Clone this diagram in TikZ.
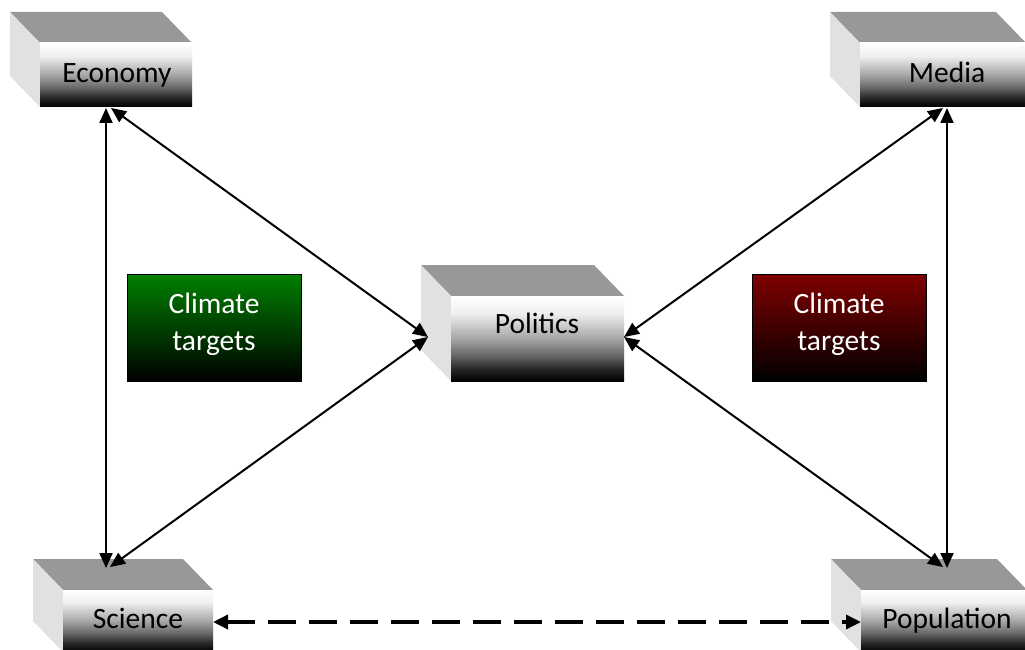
\documentclass[tikz,border=0pt]{standalone}
\usepackage{fontspec}
\setmainfont{Carlito}
\usetikzlibrary{arrows.meta}
\definecolor{grn}{RGB}{0,128,0}
\definecolor{drd}{RGB}{128,0,0}
\definecolor{topgray}{RGB}{152,152,152}
\definecolor{sidegray}{RGB}{225,225,225}
\pgfdeclareverticalshading{boxfront}{100bp}{color(0bp)=(black); color(25bp)=(black); color(32bp)=(black!85); color(40bp)=(black!60); color(50bp)=(black!35); color(65bp)=(black!6); color(75bp)=(white); color(100bp)=(white)}
\pgfdeclareverticalshading{greenfront}{100bp}{color(0bp)=(black); color(25bp)=(black); color(75bp)=(grn); color(100bp)=(grn)}
\pgfdeclareverticalshading{redfront}{100bp}{color(0bp)=(black); color(25bp)=(black); color(75bp)=(drd); color(100bp)=(drd)}
\tikzset{
  topface/.style={fill=topgray},
  sideface/.style={fill=sidegray},
  frontface/.style={shading=boxfront, inner sep=0pt, outer sep=0pt, draw=none},
  boxlabel/.style={anchor=base, font=\fontsize{29.5}{36}\selectfont, inner sep=0pt},
  target/.style={draw=black, line width=1pt, minimum width=174pt, minimum height=107pt, inner sep=0pt, text=white, align=center, font=\fontsize{29.5}{37}\selectfont},
  conn/.style={{Triangle[length=15pt,width=13pt]}-{Triangle[length=15pt,width=13pt]}, line width=2pt},
  dashconn/.style={{Triangle[length=15pt,width=14pt]}-{Triangle[length=15pt,width=14pt]}, line width=3.5pt, dash pattern=on 28pt off 13pt}
}
\newcommand\boxthree[5]{%
  \fill[topface] (#2,#3) -- (#2-30,#3-31) -- (#4-30,#3-31) -- (#4,#3) -- cycle;
  \fill[sideface] (#2,#3) -- (#2-30,#3-31) -- (#2-30,#5-31) -- (#2,#5) -- cycle;
  \node[frontface, minimum width={#4-#2}, minimum height={#5-#3}] (#1) at ({(#2+#4)/2},{(#3+#5)/2}) {};
}
\begin{document}
\begin{tikzpicture}[x=1pt,y=-1pt]
\useasboundingbox (0,0) rectangle (1025,650);
\clip (0,0) rectangle (1025,650);
\fill[white] (0,0) rectangle (1025,650);

\boxthree{econ}{40}{43}{192}{107}
\boxthree{media}{860}{43}{1026}{107}
\boxthree{pol}{451}{296}{624}{381}
\boxthree{sci}{63}{590}{213}{652}
\boxthree{pop}{861}{590}{1027}{652}

\node[boxlabel] (econT) at (117,83) {Economy};
\node[boxlabel] (mediaT) at (947,83) {Media};
\node[boxlabel] (polT) at (537,333) {Politics};
\node[boxlabel] (sciT) at (138,628) {Science};
\node[boxlabel] (popT) at (947,628) {Population};

\node[target, shading=greenfront, text depth=11pt] (gt) at (214,327.5) {Climate\\targets};
\node[target, shading=redfront, text depth=11pt] (rt) at (839,327.5) {Climate\\targets};

\coordinate (econV) at (106,108);
\coordinate (econD) at (111,108);
\coordinate (mediaV) at (947,108);
\coordinate (mediaD) at (943,108);
\coordinate (sciV) at (106,568);
\coordinate (sciD) at (110,567);
\coordinate (popV) at (947,568);
\coordinate (popD) at (943,567);
\coordinate (polL) at (428,337);
\coordinate (polR) at (624,337);

\draw[conn] (econV) -- (sciV);
\draw[conn] (mediaV) -- (popV);
\draw[conn] (econD) -- (polL);
\draw[conn] (sciD) -- (polL);
\draw[conn] (mediaD) -- (polR);
\draw[conn] (popD) -- (polR);
\draw[dashconn] (sci.east |- 0,622) -- (pop.west |- 0,622);
\end{tikzpicture}
\end{document}
